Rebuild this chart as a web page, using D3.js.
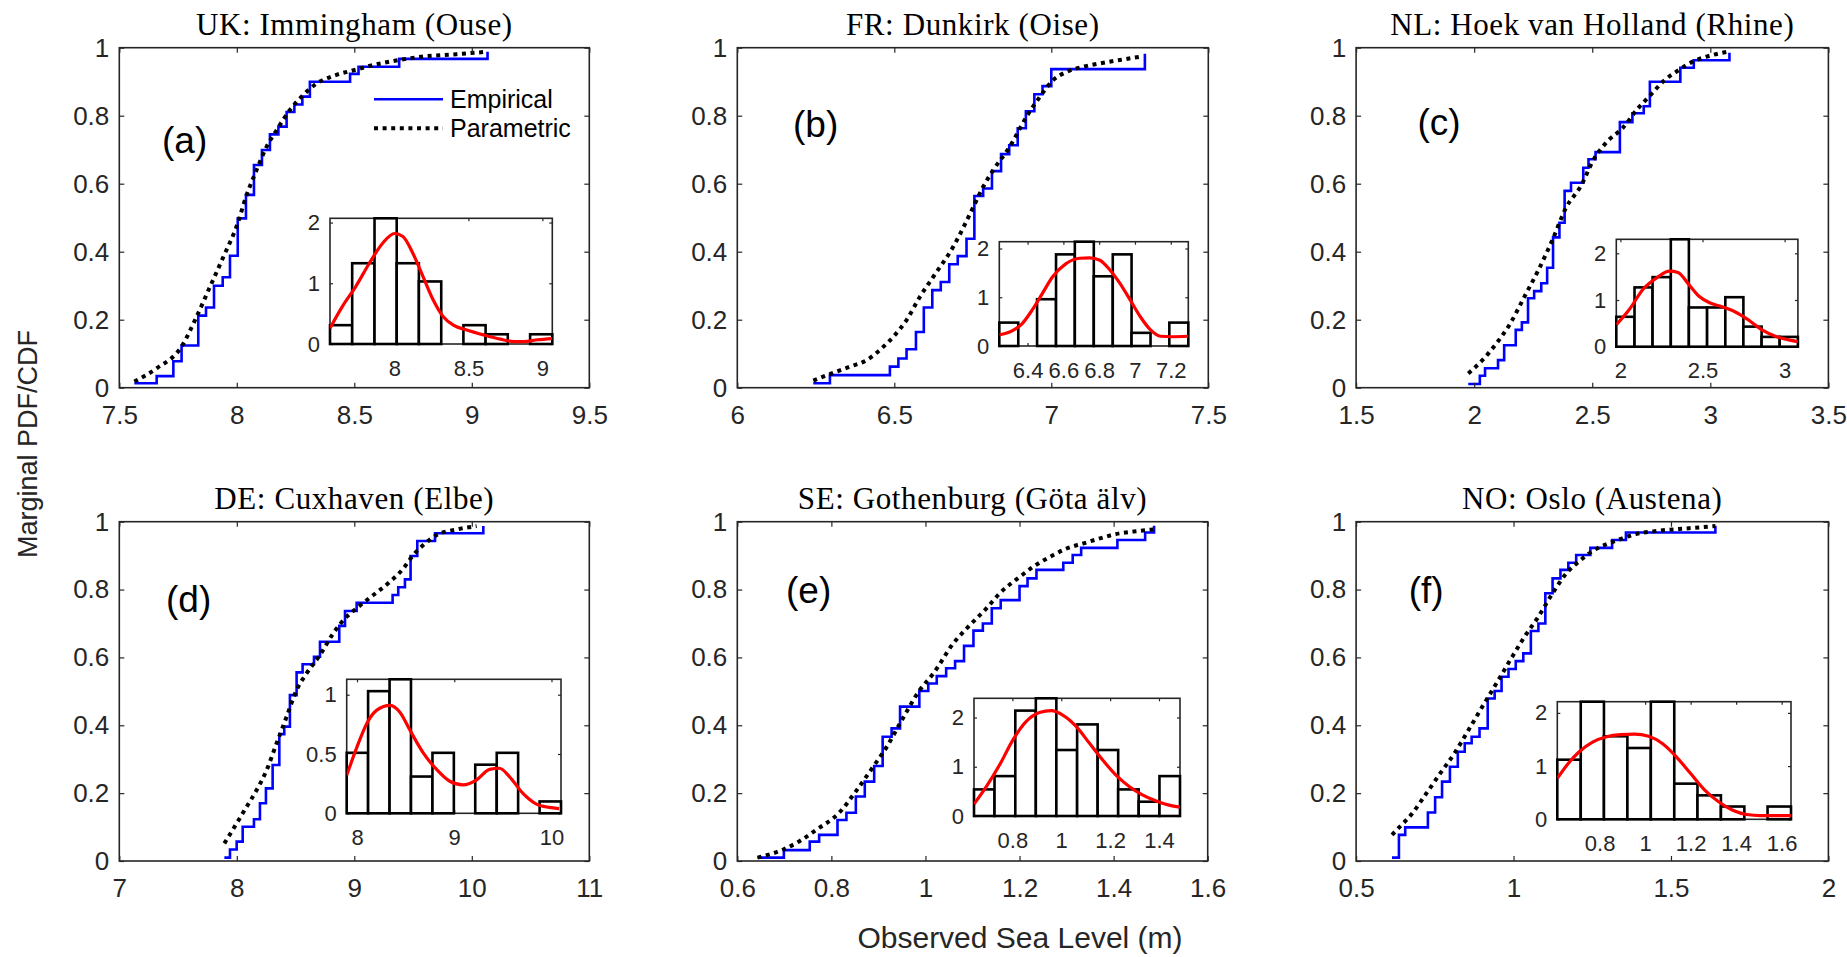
<!DOCTYPE html>
<html><head><meta charset="utf-8">
<script src="https://cdn.jsdelivr.net/npm/d3@7"></script>
<style>body{margin:0;background:#fff} svg{display:block}</style>
</head><body>
<svg id="chart" width="1847" height="957"></svg>
<script>
// ---------------- DATA ----------------
const titles = ["UK: Immingham (Ouse)", "FR: Dunkirk (Oise)", "NL: Hoek van Holland (Rhine)",
                "DE: Cuxhaven (Elbe)", "SE: Gothenburg (Göta älv)", "NO: Oslo (Austena)"];
const panelLabels = ["(a)", "(b)", "(c)", "(d)", "(e)", "(f)"];
const legendLabels = ["Empirical", "Parametric"];
const yTicks = [0, 0.2, 0.4, 0.6, 0.8, 1];
const xAxisLabel = "Observed Sea Level (m)";
const yAxisLabel = "Marginal PDF/CDF";

// (a) UK
const xTicks_a = [7.5, 8, 8.5, 9, 9.5];
const ecdfX_a = [7.564, 7.659, 7.730, 7.765, 7.836, 7.869, 7.903, 7.940, 7.971, 8.004, 8.039, 8.073, 8.107, 8.141, 8.177, 8.212, 8.245, 8.279, 8.311, 8.482, 8.518, 8.691, 9.067];
const ecdfY_a = [0.013, 0.034, 0.078, 0.124, 0.212, 0.236, 0.300, 0.325, 0.388, 0.498, 0.567, 0.655, 0.699, 0.745, 0.768, 0.811, 0.833, 0.856, 0.900, 0.923, 0.944, 0.967, 0.988];
const paramX_a = [7.564, 7.659, 7.765, 7.829, 7.886, 7.943, 7.999, 8.042, 8.084, 8.127, 8.170, 8.226, 8.283, 8.340, 8.411, 8.510, 8.581, 8.652, 8.794, 8.935, 9.063];
const paramY_a = [0.018, 0.057, 0.121, 0.209, 0.297, 0.385, 0.474, 0.567, 0.640, 0.709, 0.758, 0.817, 0.861, 0.895, 0.917, 0.936, 0.949, 0.959, 0.974, 0.981, 0.988];
const histEdges_a = [7.564, 7.714, 7.865, 8.015, 8.165, 8.316, 8.466, 8.616, 8.766, 8.917, 9.067];
const histH_a = [0.31, 1.33, 2.07, 1.33, 1.03, 0, 0.31, 0.16, 0, 0.16];
const pdfX_a = [7.564, 7.648, 7.739, 7.830, 7.920, 8.000, 8.057, 8.125, 8.193, 8.261, 8.330, 8.398, 8.489, 8.602, 8.716, 8.807, 8.875, 8.966, 9.067];
const pdfY_a = [0.26, 0.62, 0.95, 1.33, 1.66, 1.82, 1.77, 1.49, 1.11, 0.73, 0.45, 0.31, 0.23, 0.15, 0.08, 0.04, 0.04, 0.07, 0.09];
const insetXTicks_a = [8, 8.5, 9];
const insetYTicks_a = [0, 1, 2];

// (b) FR
const xTicks_b = [6, 6.5, 7, 7.5];
const ecdfX_b = [6.242, 6.295, 6.486, 6.513, 6.539, 6.569, 6.594, 6.621, 6.648, 6.675, 6.702, 6.730, 6.755, 6.783, 6.811, 6.840, 6.866, 6.893, 6.919, 6.946, 6.972, 7.000, 7.298];
const ecdfY_b = [0.013, 0.037, 0.062, 0.086, 0.113, 0.164, 0.236, 0.287, 0.311, 0.363, 0.387, 0.438, 0.564, 0.586, 0.637, 0.687, 0.713, 0.763, 0.813, 0.863, 0.887, 0.937, 0.982];
const paramX_b = [6.242, 6.306, 6.359, 6.412, 6.454, 6.497, 6.539, 6.582, 6.624, 6.688, 6.752, 6.783, 6.815, 6.868, 6.921, 6.964, 7.006, 7.049, 7.102, 7.155, 7.219, 7.293];
const paramY_b = [0.021, 0.044, 0.062, 0.081, 0.111, 0.150, 0.199, 0.268, 0.326, 0.415, 0.532, 0.591, 0.640, 0.709, 0.797, 0.856, 0.905, 0.929, 0.944, 0.954, 0.964, 0.975];
const histEdges_b = [6.242, 6.348, 6.453, 6.559, 6.664, 6.770, 6.876, 6.981, 7.087, 7.192, 7.298];
const histH_b = [0.48, 0, 0.96, 1.88, 2.14, 1.43, 1.88, 0.27, 0, 0.48];
const pdfX_b = [6.242, 6.313, 6.370, 6.426, 6.483, 6.540, 6.615, 6.691, 6.747, 6.804, 6.860, 6.917, 6.974, 7.030, 7.087, 7.143, 7.200, 7.298];
const pdfY_b = [0.23, 0.31, 0.46, 0.74, 1.08, 1.42, 1.69, 1.80, 1.81, 1.76, 1.56, 1.28, 0.94, 0.60, 0.33, 0.20, 0.19, 0.20];
const insetXTicks_b = [6.4, 6.6, 6.8, 7, 7.2];
const insetYTicks_b = [0, 1, 2];

// (c) NL
const xTicks_c = [1.5, 2, 2.5, 3, 3.5];
const ecdfX_c = [1.975, 2.024, 2.046, 2.101, 2.127, 2.176, 2.202, 2.228, 2.254, 2.284, 2.309, 2.334, 2.361, 2.383, 2.410, 2.462, 2.484, 2.514, 2.617, 2.670, 2.718, 2.744, 2.873, 2.930, 3.081];
const ecdfY_c = [0.011, 0.035, 0.057, 0.081, 0.125, 0.170, 0.192, 0.263, 0.284, 0.307, 0.353, 0.442, 0.485, 0.579, 0.603, 0.647, 0.672, 0.693, 0.781, 0.807, 0.828, 0.900, 0.941, 0.963, 0.985];
const paramX_c = [1.975, 2.035, 2.094, 2.153, 2.213, 2.272, 2.331, 2.391, 2.450, 2.509, 2.569, 2.628, 2.688, 2.747, 2.807, 2.866, 2.925, 2.985, 3.074];
const paramY_c = [0.042, 0.081, 0.130, 0.189, 0.268, 0.346, 0.434, 0.532, 0.591, 0.675, 0.728, 0.763, 0.817, 0.861, 0.905, 0.934, 0.959, 0.974, 0.988];
const histEdges_c = [1.975, 2.086, 2.196, 2.307, 2.417, 2.528, 2.639, 2.749, 2.860, 2.970, 3.081];
const histH_c = [0.64, 1.27, 1.49, 2.30, 0.84, 0.84, 1.06, 0.43, 0.21, 0.21];
const pdfX_c = [1.975, 2.053, 2.138, 2.223, 2.298, 2.351, 2.415, 2.479, 2.543, 2.606, 2.691, 2.777, 2.862, 2.947, 3.032, 3.081];
const pdfY_c = [0.47, 0.79, 1.23, 1.48, 1.62, 1.59, 1.34, 1.08, 0.94, 0.87, 0.76, 0.58, 0.36, 0.22, 0.14, 0.11];
const insetXTicks_c = [2, 2.5, 3];
const insetYTicks_c = [0, 1, 2];

// (d) DE
const xTicks_d = [7, 8, 9, 10, 11];
const ecdfX_d = [7.894, 7.942, 7.999, 8.050, 8.146, 8.197, 8.248, 8.305, 8.362, 8.404, 8.452, 8.509, 8.560, 8.657, 8.708, 8.872, 8.921, 9.020, 9.326, 9.374, 9.431, 9.479, 9.536, 9.687, 10.098];
const ecdfY_d = [0.010, 0.034, 0.057, 0.101, 0.123, 0.170, 0.214, 0.283, 0.374, 0.396, 0.489, 0.556, 0.580, 0.602, 0.646, 0.693, 0.737, 0.761, 0.784, 0.807, 0.830, 0.899, 0.943, 0.966, 0.987];
const paramX_d = [7.894, 7.999, 8.084, 8.169, 8.254, 8.339, 8.424, 8.509, 8.594, 8.708, 8.821, 8.935, 9.020, 9.162, 9.304, 9.417, 9.502, 9.587, 9.701, 9.871, 10.041];
const paramY_d = [0.052, 0.111, 0.160, 0.209, 0.268, 0.347, 0.425, 0.504, 0.553, 0.607, 0.671, 0.720, 0.745, 0.784, 0.823, 0.862, 0.902, 0.931, 0.961, 0.977, 0.987];
const histEdges_d = [7.894, 8.114, 8.335, 8.555, 8.776, 8.996, 9.216, 9.437, 9.657, 9.878, 10.098];
const histH_d = [0.51, 1.03, 1.13, 0.31, 0.51, 0, 0.41, 0.51, 0, 0.10];
const pdfX_d = [7.894, 8.000, 8.102, 8.204, 8.341, 8.443, 8.545, 8.681, 8.818, 8.954, 9.090, 9.227, 9.363, 9.465, 9.567, 9.704, 9.840, 9.976, 10.078];
const pdfY_d = [0.32, 0.56, 0.76, 0.87, 0.91, 0.85, 0.70, 0.51, 0.37, 0.27, 0.24, 0.28, 0.37, 0.38, 0.31, 0.17, 0.08, 0.05, 0.04];
const insetXTicks_d = [8, 9, 10];
const insetYTicks_d = [0, 0.5, 1];

// (e) SE
const xTicks_e = [0.6, 0.8, 1, 1.2, 1.4, 1.6];
const ecdfX_e = [0.643, 0.699, 0.754, 0.774, 0.813, 0.832, 0.852, 0.871, 0.891, 0.909, 0.928, 0.946, 0.987, 1.006, 1.024, 1.044, 1.063, 1.082, 1.102, 1.122, 1.141, 1.160, 1.200, 1.217, 1.236, 1.293, 1.313, 1.331, 1.408, 1.467, 1.486];
const ecdfY_e = [0.010, 0.032, 0.057, 0.077, 0.121, 0.142, 0.190, 0.234, 0.280, 0.366, 0.391, 0.455, 0.501, 0.523, 0.545, 0.568, 0.589, 0.634, 0.679, 0.700, 0.745, 0.769, 0.810, 0.833, 0.858, 0.879, 0.902, 0.923, 0.946, 0.968, 0.988];
const paramX_e = [0.643, 0.698, 0.733, 0.769, 0.815, 0.854, 0.889, 0.918, 0.946, 0.988, 1.017, 1.059, 1.088, 1.130, 1.158, 1.201, 1.229, 1.272, 1.300, 1.336, 1.371, 1.414, 1.442, 1.484];
const paramY_e = [0.010, 0.034, 0.059, 0.093, 0.140, 0.209, 0.278, 0.337, 0.406, 0.504, 0.553, 0.641, 0.686, 0.745, 0.789, 0.838, 0.867, 0.902, 0.921, 0.936, 0.951, 0.966, 0.971, 0.977];
const histEdges_e = [0.643, 0.727, 0.812, 0.896, 0.980, 1.065, 1.149, 1.233, 1.317, 1.402, 1.486];
const histH_e = [0.54, 0.81, 2.14, 2.39, 1.34, 1.86, 1.34, 0.54, 0.29, 0.81];
const pdfX_e = [0.643, 0.694, 0.748, 0.803, 0.857, 0.911, 0.959, 1.006, 1.061, 1.115, 1.169, 1.224, 1.278, 1.332, 1.386, 1.441, 1.486];
const pdfY_e = [0.24, 0.60, 1.04, 1.55, 1.92, 2.10, 2.14, 2.05, 1.82, 1.48, 1.14, 0.83, 0.60, 0.43, 0.31, 0.22, 0.18];
const insetXTicks_e = [0.8, 1, 1.2, 1.4];
const insetYTicks_e = [0, 1, 2];

// (f) NO
const xTicks_f = [0.5, 1, 1.5, 2];
const ecdfX_f = [0.614, 0.636, 0.656, 0.728, 0.751, 0.773, 0.798, 0.823, 0.845, 0.867, 0.892, 0.918, 0.940, 0.962, 0.984, 1.007, 1.031, 1.055, 1.079, 1.101, 1.124, 1.149, 1.174, 1.199, 1.244, 1.313, 1.357, 1.641];
const ecdfY_f = [0.010, 0.077, 0.099, 0.143, 0.188, 0.234, 0.278, 0.322, 0.347, 0.366, 0.391, 0.479, 0.501, 0.543, 0.566, 0.589, 0.612, 0.678, 0.700, 0.789, 0.833, 0.858, 0.879, 0.902, 0.923, 0.946, 0.968, 0.988];
const paramX_f = [0.614, 0.639, 0.678, 0.723, 0.767, 0.812, 0.857, 0.901, 0.946, 0.990, 1.035, 1.079, 1.124, 1.168, 1.213, 1.257, 1.302, 1.346, 1.391, 1.458, 1.547, 1.641];
const paramY_f = [0.077, 0.101, 0.140, 0.199, 0.258, 0.317, 0.386, 0.455, 0.524, 0.593, 0.661, 0.720, 0.789, 0.848, 0.887, 0.917, 0.936, 0.951, 0.964, 0.973, 0.980, 0.987];
const histEdges_f = [0.614, 0.717, 0.819, 0.922, 1.025, 1.128, 1.230, 1.333, 1.436, 1.538, 1.641];
const histH_f = [1.12, 2.21, 1.56, 1.34, 2.21, 0.67, 0.45, 0.24, 0, 0.24];
const pdfX_f = [0.614, 0.662, 0.708, 0.769, 0.831, 0.892, 0.954, 1.015, 1.077, 1.138, 1.200, 1.262, 1.323, 1.385, 1.446, 1.508, 1.569, 1.641];
const pdfY_f = [0.77, 1.05, 1.26, 1.45, 1.55, 1.59, 1.60, 1.56, 1.42, 1.17, 0.86, 0.55, 0.33, 0.17, 0.09, 0.07, 0.07, 0.07];
const insetXTicks_f = [0.8, 1, 1.2, 1.4, 1.6];
const insetYTicks_f = [0, 1, 2];

// ------------- assemble -------------
const panels = [
  {xTicks: xTicks_a, ecdfX: ecdfX_a, ecdfY: ecdfY_a, paramX: paramX_a, paramY: paramY_a, edges: histEdges_a, hist: histH_a, pdfX: pdfX_a, pdfY: pdfY_a, ixTicks: insetXTicks_a, iyTicks: insetYTicks_a},
  {xTicks: xTicks_b, ecdfX: ecdfX_b, ecdfY: ecdfY_b, paramX: paramX_b, paramY: paramY_b, edges: histEdges_b, hist: histH_b, pdfX: pdfX_b, pdfY: pdfY_b, ixTicks: insetXTicks_b, iyTicks: insetYTicks_b},
  {xTicks: xTicks_c, ecdfX: ecdfX_c, ecdfY: ecdfY_c, paramX: paramX_c, paramY: paramY_c, edges: histEdges_c, hist: histH_c, pdfX: pdfX_c, pdfY: pdfY_c, ixTicks: insetXTicks_c, iyTicks: insetYTicks_c},
  {xTicks: xTicks_d, ecdfX: ecdfX_d, ecdfY: ecdfY_d, paramX: paramX_d, paramY: paramY_d, edges: histEdges_d, hist: histH_d, pdfX: pdfX_d, pdfY: pdfY_d, ixTicks: insetXTicks_d, iyTicks: insetYTicks_d},
  {xTicks: xTicks_e, ecdfX: ecdfX_e, ecdfY: ecdfY_e, paramX: paramX_e, paramY: paramY_e, edges: histEdges_e, hist: histH_e, pdfX: pdfX_e, pdfY: pdfY_e, ixTicks: insetXTicks_e, iyTicks: insetYTicks_e},
  {xTicks: xTicks_f, ecdfX: ecdfX_f, ecdfY: ecdfY_f, paramX: paramX_f, paramY: paramY_f, edges: histEdges_f, hist: histH_f, pdfX: pdfX_f, pdfY: pdfY_f, ixTicks: insetXTicks_f, iyTicks: insetYTicks_f}
];

// layout (pixels)
const layout = [
  {l: 119.3, r: 589.3, t: 47.7, b: 387.7, il: 330, ir: 552.3, it: 218.3, ib: 344, lx: 162, ly: 152.6},
  {l: 737.3, r: 1208.3, t: 47.7, b: 387.7, il: 999.3, ir: 1188.3, it: 241.7, ib: 346, lx: 793, ly: 136.5},
  {l: 1356.1, r: 1828.4, t: 47.7, b: 387.7, il: 1616.3, ir: 1797.9, it: 239.3, ib: 346.7, lx: 1417.5, ly: 135},
  {l: 119.3, r: 589.3, t: 521.7, b: 861, il: 346.7, ir: 561, it: 679.3, ib: 813.3, lx: 166, ly: 611.7},
  {l: 737.3, r: 1207.7, t: 521.7, b: 861, il: 974, ir: 1180, it: 698.3, ib: 816, lx: 786, ly: 603.3},
  {l: 1356.1, r: 1828.4, t: 521.7, b: 861, il: 1557.3, ir: 1791, it: 701.7, ib: 819.3, lx: 1408.7, ly: 602.7}
];

const SANS = "'Liberation Sans', Arial, Helvetica, sans-serif";
const SERIF = "'Liberation Serif', 'Times New Roman', serif";
const AX = "#262626";
const svg = d3.select("#chart");
svg.append("rect").attr("width", 1847).attr("height", 957).attr("fill", "#fff");

function styleAxis(g, fs) {
  g.select(".domain").remove();
  g.attr("font-family", SANS).attr("font-size", fs).attr("color", AX);
  g.selectAll(".tick line").attr("stroke-width", 1.2);
}

panels.forEach((p, i) => {
  const L = layout[i];
  const g = svg.append("g");
  const x = d3.scaleLinear().domain([p.xTicks[0], p.xTicks[p.xTicks.length - 1]]).range([L.l, L.r]);
  const y = d3.scaleLinear().domain([0, 1]).range([L.b, L.t]);

  // title
  g.append("text").attr("x", (L.l + L.r) / 2).attr("y", L.t - 13)
    .attr("text-anchor", "middle").attr("font-family", SERIF).attr("font-size", 31)
    .attr("letter-spacing", 0.6).attr("fill", "#000").text(titles[i]);

  // empirical step CDF
  const stepLine = d3.line().x(d => x(d[0])).y(d => y(d[1])).curve(d3.curveStepAfter);
  g.append("path").datum(d3.zip(p.ecdfX, p.ecdfY)).attr("d", stepLine)
    .attr("fill", "none").attr("stroke", "#0000ff").attr("stroke-width", 2.6);

  // parametric CDF
  const smooth = d3.line().x(d => x(d[0])).y(d => y(d[1])).curve(d3.curveMonotoneX);
  g.append("path").datum(d3.zip(p.paramX, p.paramY)).attr("d", smooth)
    .attr("fill", "none").attr("stroke", "#000").attr("stroke-width", 4)
    .attr("stroke-dasharray", "4 4.6");

  // axes
  g.append("g").attr("transform", `translate(0,${L.b})`)
    .call(d3.axisBottom(x).tickValues(p.xTicks).tickSize(-5).tickPadding(18).tickFormat(d => String(d)))
    .call(s => styleAxis(s, 26));
  g.append("g").attr("transform", `translate(0,${L.t})`)
    .call(d3.axisTop(x).tickValues(p.xTicks).tickSize(-5).tickFormat(""))
    .call(s => styleAxis(s, 26));
  g.append("g").attr("transform", `translate(${L.l},0)`)
    .call(d3.axisLeft(y).tickValues(yTicks).tickSize(-5).tickPadding(10).tickFormat(d => String(d)))
    .call(s => styleAxis(s, 26));
  g.append("g").attr("transform", `translate(${L.r},0)`)
    .call(d3.axisRight(y).tickValues(yTicks).tickSize(-5).tickFormat(""))
    .call(s => styleAxis(s, 26));
  g.append("rect").attr("x", L.l).attr("y", L.t).attr("width", L.r - L.l).attr("height", L.b - L.t)
    .attr("fill", "none").attr("stroke", AX).attr("stroke-width", 1.6);

  // panel label
  g.append("text").attr("x", L.lx).attr("y", L.ly).attr("font-family", SANS)
    .attr("font-size", 37).attr("fill", "#000").text(panelLabels[i]);

  // ---------- inset ----------
  const ix = d3.scaleLinear().domain([p.edges[0], p.edges[p.edges.length - 1]]).range([L.il, L.ir]);
  const iy = d3.scaleLinear().domain([0, d3.max(p.hist)]).range([L.ib, L.it]);
  const ig = g.append("g");
  ig.append("rect").attr("x", L.il).attr("y", L.it).attr("width", L.ir - L.il).attr("height", L.ib - L.it)
    .attr("fill", "#fff").attr("stroke", AX).attr("stroke-width", 1.6);
  ig.append("g").attr("transform", `translate(0,${L.ib})`)
    .call(d3.axisBottom(ix).tickValues(p.ixTicks).tickSize(-3).tickPadding(16).tickFormat(d => String(d)))
    .call(s => styleAxis(s, 22));
  ig.append("g").attr("transform", `translate(0,${L.it})`)
    .call(d3.axisTop(ix).tickValues(p.ixTicks).tickSize(-3).tickFormat(""))
    .call(s => styleAxis(s, 22));
  ig.append("g").attr("transform", `translate(${L.il},0)`)
    .call(d3.axisLeft(iy).tickValues(p.iyTicks).tickSize(-3).tickPadding(10).tickFormat(d => String(d)))
    .call(s => styleAxis(s, 22));
  ig.append("g").attr("transform", `translate(${L.ir},0)`)
    .call(d3.axisRight(iy).tickValues(p.iyTicks).tickSize(-3).tickFormat(""))
    .call(s => styleAxis(s, 22));

  const bars = p.hist.map((h, k) => ({x0: p.edges[k], x1: p.edges[k + 1], h})).filter(d => d.h > 0);
  ig.selectAll("rect.bar").data(bars).enter().append("rect").attr("class", "bar")
    .attr("x", d => ix(d.x0)).attr("width", d => ix(d.x1) - ix(d.x0))
    .attr("y", d => iy(d.h)).attr("height", d => iy(0) - iy(d.h))
    .attr("fill", "#fff").attr("stroke", "#000").attr("stroke-width", 2.6);

  const clipId = "clip" + i;
  ig.append("clipPath").attr("id", clipId).append("rect")
    .attr("x", L.il).attr("y", L.it).attr("width", L.ir - L.il).attr("height", L.ib - L.it);
  const pdfLine = d3.line().x(d => ix(d[0])).y(d => iy(d[1])).curve(d3.curveMonotoneX);
  ig.append("path").datum(d3.zip(p.pdfX, p.pdfY)).attr("d", pdfLine)
    .attr("clip-path", `url(#${clipId})`)
    .attr("fill", "none").attr("stroke", "#ff0000").attr("stroke-width", 3.2);
});

// legend (panel a)
const lg = svg.append("g");
lg.append("line").attr("x1", 374).attr("x2", 443).attr("y1", 99.3).attr("y2", 99.3)
  .attr("stroke", "#0000ff").attr("stroke-width", 2.6);
lg.append("line").attr("x1", 374).attr("x2", 443).attr("y1", 128.3).attr("y2", 128.3)
  .attr("stroke", "#000").attr("stroke-width", 4).attr("stroke-dasharray", "4 4.6");
lg.append("text").attr("x", 450).attr("y", 108).attr("font-family", SANS).attr("font-size", 25)
  .attr("fill", "#000").text(legendLabels[0]);
lg.append("text").attr("x", 450).attr("y", 137).attr("font-family", SANS).attr("font-size", 25)
  .attr("fill", "#000").text(legendLabels[1]);

// shared axis labels
svg.append("text").attr("x", 1020).attr("y", 948).attr("text-anchor", "middle")
  .attr("font-family", SANS).attr("font-size", 30).attr("fill", AX).text(xAxisLabel);
svg.append("text").attr("transform", "translate(37,444) rotate(-90)").attr("text-anchor", "middle")
  .attr("font-family", SANS).attr("font-size", 27).attr("fill", AX).text(yAxisLabel);
</script>
</body></html>
